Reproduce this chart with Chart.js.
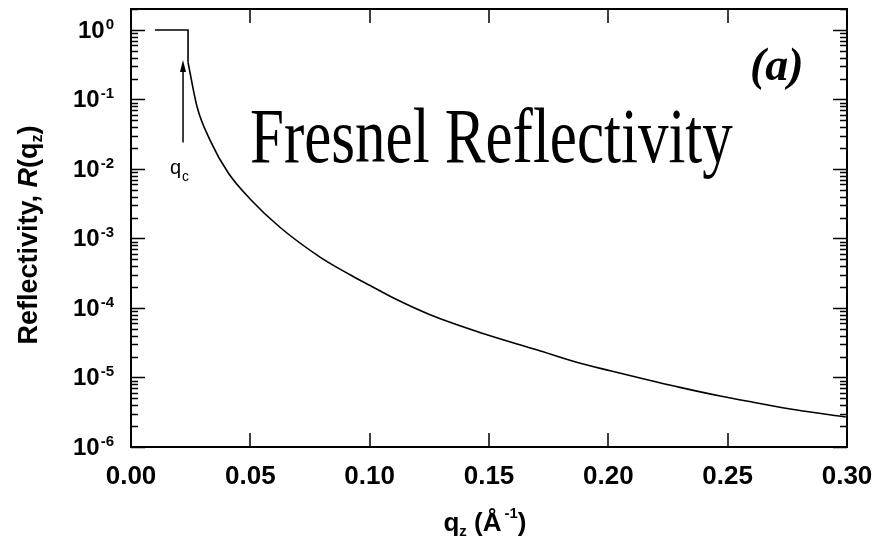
<!DOCTYPE html>
<html>
<head>
<meta charset="utf-8">
<script src="https://cdn.jsdelivr.net/npm/chart.js@4.4.0/dist/chart.umd.min.js"></script>
<style>
  html, body { margin: 0; padding: 0; background: #fff; }
  #wrap { width: 876px; height: 550px; }
</style>
</head>
<body>
<div id="wrap"><canvas id="fresnelChart"></canvas></div>
<script>
// step part: total reflection plateau, then drop at q_c
const stepQ = [0.010, 0.0239, 0.0239];
const stepR = [1.0, 1.0, 0.34];

// decaying part of the curve
const curveQ = [0.0239, 0.0277, 0.0331, 0.0407, 0.0499, 0.0624, 0.0792, 0.0918, 0.1002, 0.1098,
                0.1253, 0.1475, 0.170, 0.1882, 0.2008, 0.2163, 0.230, 0.2469, 0.2607, 0.279, 0.2995];
const curveR = [0.34, 0.078, 0.026, 0.0088, 0.0037, 0.00145, 5.4e-4, 3.0e-4, 2.1e-4, 1.4e-4,
                8.0e-5, 4.3e-5, 2.5e-5, 1.6e-5, 1.25e-5, 9.3e-6, 7.2e-6, 5.4e-6, 4.4e-6, 3.4e-6, 2.7e-6];

const xTickValues = [0.00, 0.05, 0.10, 0.15, 0.20, 0.25, 0.30];
const xTickLabels = ["0.00", "0.05", "0.10", "0.15", "0.20", "0.25", "0.30"];
const yExponents = [0, -1, -2, -3, -4, -5, -6];

// q_c arrow annotation (q, from R, to R)
const qcArrow = { q: 0.0218, fromR: 0.024, toR: 0.37 };

const toPoints = (xs, ys) => xs.map((x, i) => ({ x: x, y: ys[i] }));

function drawRuns(ctx, runs, cx, baseY) {
  let total = 0;
  runs.forEach((r) => { ctx.font = r.font; r.w = ctx.measureText(r.t).width; total += r.w; });
  let x = cx - total / 2;
  ctx.textAlign = "left";
  ctx.textBaseline = "alphabetic";
  runs.forEach((r) => { ctx.font = r.font; ctx.fillText(r.t, x, baseY + (r.dy || 0)); x += r.w; });
}

const framePlugin = {
  id: "frame",
  afterDraw(chart) {
    const ctx = chart.ctx;
    const a = chart.chartArea;
    const xs = chart.scales.x;
    const ys = chart.scales.y;
    const sans = "'Liberation Sans', Arial, sans-serif";
    ctx.save();
    ctx.strokeStyle = "#000";
    ctx.fillStyle = "#000";

    // frame
    ctx.lineWidth = 2;
    ctx.strokeRect(a.left, a.top, a.right - a.left, a.bottom - a.top);

    // x ticks, inward, bottom and top
    ctx.lineWidth = 1.5;
    xTickValues.forEach((v) => {
      const px = Math.round(xs.getPixelForValue(v));
      ctx.beginPath();
      ctx.moveTo(px, a.bottom); ctx.lineTo(px, a.bottom - 14);
      ctx.moveTo(px, a.top); ctx.lineTo(px, a.top + 14);
      ctx.stroke();
    });

    // y ticks, major and minor, left and right
    yExponents.forEach((e) => {
      for (let m = 1; m <= 9; m++) {
        const v = m * Math.pow(10, e);
        if (v > ys.max) continue;
        const py = Math.round(ys.getPixelForValue(v)) + 0.5;
        const len = m === 1 ? 14 : 7;
        ctx.beginPath();
        ctx.moveTo(a.left, py); ctx.lineTo(a.left + len, py);
        ctx.moveTo(a.right, py); ctx.lineTo(a.right - len, py);
        ctx.stroke();
      }
    });

    // y tick labels 10^n
    yExponents.forEach((e) => {
      const py = ys.getPixelForValue(Math.pow(10, e));
      const expStr = e === 0 ? "0" : "-" + Math.abs(e);
      ctx.font = "bold 15px " + sans;
      const w = ctx.measureText(expStr).width;
      const right = 114;
      ctx.textAlign = "left";
      ctx.textBaseline = "alphabetic";
      ctx.fillText(expStr, right - w, py - 1);
      ctx.font = "bold 24px " + sans;
      ctx.textAlign = "right";
      ctx.fillText("10", right - w - 1, py + 8);
    });

    // x tick labels
    ctx.font = "bold 26px " + sans;
    ctx.textAlign = "center";
    ctx.textBaseline = "alphabetic";
    xTickValues.forEach((v, i) => {
      ctx.fillText(xTickLabels[i], xs.getPixelForValue(v), 484);
    });

    // x title: q_z (Å^-1)
    const cx = (a.left + a.right) / 2 - 4;
    drawRuns(ctx, [
      { t: "q", font: "bold 26px " + sans },
      { t: "z", font: "bold 15px " + sans, dy: 5 },
      { t: " (Å", font: "bold 26px " + sans },
      { t: "\u2009-1", font: "bold 15px " + sans, dy: -13 },
      { t: ")", font: "bold 26px " + sans }
    ], cx, 531);

    // y title: Reflectivity, R(q_z)
    ctx.save();
    ctx.translate(37, (a.top + a.bottom) / 2 + 7);
    ctx.rotate(-Math.PI / 2);
    drawRuns(ctx, [
      { t: "Reflectivity, ", font: "bold 27px " + sans },
      { t: "R", font: "italic bold 27px " + sans },
      { t: "(q", font: "bold 27px " + sans },
      { t: "z", font: "bold 16px " + sans, dy: 5 },
      { t: ")", font: "bold 27px " + sans }
    ], 0, 0);
    ctx.restore();

    // q_c arrow
    const ax = xs.getPixelForValue(qcArrow.q);
    const ay0 = ys.getPixelForValue(qcArrow.fromR);
    const ay1 = ys.getPixelForValue(qcArrow.toR);
    ctx.lineWidth = 1.5;
    ctx.beginPath();
    ctx.moveTo(ax, ay0); ctx.lineTo(ax, ay1 + 8);
    ctx.stroke();
    ctx.beginPath();
    ctx.moveTo(ax, ay1);
    ctx.lineTo(ax - 3, ay1 + 12);
    ctx.lineTo(ax + 3, ay1 + 12);
    ctx.closePath();
    ctx.fill();

    // q_c label
    ctx.textAlign = "left";
    ctx.font = "20px " + sans;
    ctx.fillText("q", 170, 174);
    ctx.font = "14px " + sans;
    ctx.fillText("c", 182, 181);

    // Fresnel Reflectivity
    ctx.save();
    ctx.translate(250, 162);
    ctx.scale(1, 1.3);
    ctx.font = "61px 'Liberation Serif', 'Times New Roman', serif";
    ctx.fillText("Fresnel Reflectivity", 0, 0);
    ctx.restore();

    // (a)
    ctx.font = "italic bold 46px 'Liberation Serif', 'Times New Roman', serif";
    ctx.fillText("(a)", 750, 80);

    ctx.restore();
  }
};

new Chart(document.getElementById("fresnelChart"), {
  type: "scatter",
  data: {
    datasets: [
      {
        label: "step",
        data: toPoints(stepQ, stepR),
        showLine: true,
        borderColor: "#000",
        borderWidth: 1.6,
        pointRadius: 0,
        tension: 0
      },
      {
        label: "Fresnel",
        data: toPoints(curveQ, curveR),
        showLine: true,
        borderColor: "#000",
        borderWidth: 1.6,
        pointRadius: 0,
        cubicInterpolationMode: "monotone"
      }
    ]
  },
  options: {
    responsive: true,
    maintainAspectRatio: false,
    animation: false,
    layout: { padding: { left: 131, right: 29, top: 9, bottom: 103 } },
    plugins: {
      legend: { display: false },
      tooltip: { enabled: false }
    },
    scales: {
      x: { type: "linear", min: 0, max: 0.30, display: false },
      y: { type: "logarithmic", min: 1e-6, max: 2, display: false }
    }
  },
  plugins: [framePlugin]
});
</script>
</body>
</html>
